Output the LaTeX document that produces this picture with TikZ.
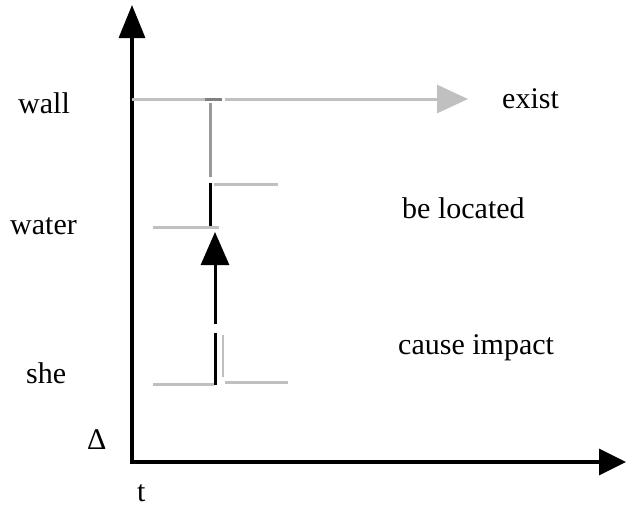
\documentclass[tikz,border=0pt]{standalone}
\usepackage{fontspec}
\setmainfont{Liberation Serif}
\usetikzlibrary{arrows.meta}
\definecolor{lgray}{HTML}{C0C0C0}
\definecolor{mgray}{HTML}{999999}
\definecolor{dgray}{HTML}{808080}
\tikzset{
  lbl/.style={anchor=base west, inner sep=0pt, font=\fontsize{30}{30}\selectfont},
  axis/.style={line width=3.2pt, black},
  glin/.style={line width=3pt, lgray},
  blin/.style={line width=3pt, black},
}
\begin{document}
\begin{tikzpicture}[x=1pt,y=-1pt]
\useasboundingbox (0,0) rectangle (627,506);
% axes
\coordinate (O) at (132,462);
\coordinate (Ytip) at (132,5);
\coordinate (Xtip) at (626,462);
\draw[axis, -{Triangle[length=33pt,width=26pt]}] (O) -- (Ytip);
\draw[axis, -{Triangle[length=27pt,width=26pt]}] ([xshift=-1.6pt]O) -- (Xtip);
% wall line
\coordinate (w0) at (132,99);
\coordinate (w1) at (222,99);
\coordinate (wd) at (205,99);
\coordinate (w2) at (225,99);
\coordinate (w3) at (468,99);
\draw[glin] (w0) -- (w1);
\draw[line width=3pt, dgray] (wd) -- (w1);
\draw[glin, -{Triangle[length=31pt,width=28pt]}] (w2) -- (w3);
% water / be located
\coordinate (v1a) at (210,103);
\coordinate (v1b) at (210,177);
\draw[line width=3pt, mgray] (v1a) -- (v1b);
\coordinate (b1a) at (210,183);
\coordinate (b1b) at (210,227);
\draw[blin] (b1a) -- (b1b);
\coordinate (h1a) at (214,184);
\coordinate (h1b) at (278,184);
\draw[glin] (h1a) -- (h1b);
\coordinate (h2a) at (153,227);
\coordinate (h2b) at (219,227);
\draw[glin] (h2a) -- (h2b);
% cause impact arrow
\coordinate (a0) at (215,385);
\coordinate (a1) at (215,333);
\coordinate (a2) at (215,324);
\coordinate (a3) at (215,232);
\draw[blin] (a0) -- (a1);
\draw[blin, -{Triangle[length=33pt,width=28pt]}] (a2) -- (a3);
\coordinate (g1a) at (223,335);
\coordinate (g1b) at (223,377);
\draw[line width=2.7pt, lgray] (g1a) -- (g1b);
\coordinate (h3a) at (153,384);
\coordinate (h3b) at (214,384);
\draw[glin] (h3a) -- (h3b);
\coordinate (h4a) at (225,382);
\coordinate (h4b) at (288,382);
\draw[glin] (h4a) -- (h4b);
% labels
\node[lbl] (wall) at (18,113) {wall};
\node[lbl] (water) at (10,234) {water};
\node[lbl] (she) at (26,383) {she};
\node[lbl] (delta) at (87,449) {Δ};
\node[lbl, text depth=0pt] (t) at (137,501) {t};
\node[lbl] (exist) at (502,108) {exist};
\node[lbl] (loc) at (402,218) {be located};
\node[lbl] (cause) at (398,354) {cause impact};
\end{tikzpicture}
\end{document}
